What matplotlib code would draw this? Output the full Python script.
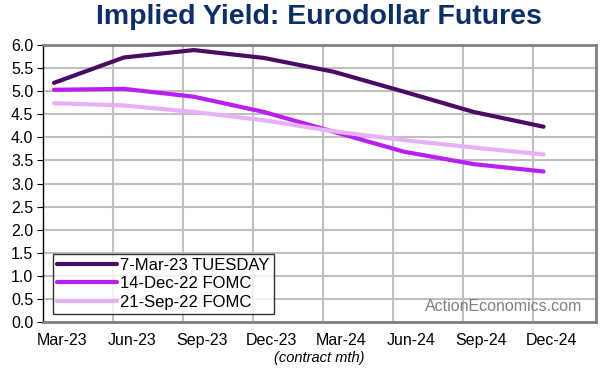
import matplotlib.pyplot as plt
import numpy as np

plt.rcParams['font.family'] = ['Liberation Sans', 'DejaVu Sans']

months = ['Mar-23', 'Jun-23', 'Sep-23', 'Dec-23', 'Mar-24', 'Jun-24', 'Sep-24', 'Dec-24']
mar23 = [5.18, 5.73, 5.89, 5.72, 5.42, 4.99, 4.55, 4.23]
dec22 = [5.03, 5.05, 4.88, 4.55, 4.12, 3.69, 3.42, 3.26]
sep22 = [4.74, 4.69, 4.55, 4.37, 4.13, 3.94, 3.78, 3.63]

fig = plt.figure(figsize=(6.02, 3.69), dpi=100)
ax = fig.add_axes([43/602, 1 - 322/369, 553/602, 277/369])

x = np.arange(len(months))
ax.plot(x, mar23, color='#4a0c63', lw=3, label='7-Mar-23 TUESDAY', solid_capstyle='round')
ax.plot(x, dec22, color='#b91ef2', lw=3, label='14-Dec-22 FOMC', solid_capstyle='round')
ax.plot(x, sep22, color='#e9b0f5', lw=3, label='21-Sep-22 FOMC', solid_capstyle='round')

ax.set_xlim(-0.157, 7.75)
ax.set_ylim(0, 6)
ax.set_yticks(np.arange(0, 6.01, 0.5))
ax.set_yticklabels([f'{v:.1f}' for v in np.arange(0, 6.01, 0.5)], fontsize=11.5)

# labels sit a bit right of each point, grid lines sit between categories
ax.set_xticks(x + 0.11)
ax.set_xticklabels(months, fontsize=11.5)
ax.set_xticks(x[:-1] + 0.845, minor=True)
ax.tick_params(axis='x', which='both', length=0, pad=8)
ax.tick_params(axis='y', length=4, color='black', pad=3)
ax.grid(True, axis='y', color='#c0c0c0', lw=1.5)
ax.grid(True, axis='x', which='minor', color='#c0c0c0', lw=1.5)
ax.set_axisbelow(True)

for s in ['top', 'right', 'bottom']:
    ax.spines[s].set_color('#808080')
    ax.spines[s].set_linewidth(2)
ax.spines['left'].set_color('black')
ax.spines['left'].set_linewidth(1)

ax.set_xlabel('(contract mth)', fontsize=10.5, style='italic', labelpad=2)

leg = ax.legend(loc='lower left', bbox_to_anchor=(0.018, 0.03), fontsize=12,
                frameon=True, fancybox=False, edgecolor='black', borderpad=0.25,
                labelspacing=0.2, handlelength=3.6, handletextpad=0.2, borderaxespad=0)
leg.get_frame().set_linewidth(1)

ax.text(0.975, 0.055, 'ActionEconomics.com', transform=ax.transAxes, ha='right',
        va='center', fontsize=11.5, color='#808080')

fig.suptitle('Implied Yield: Eurodollar Futures', fontsize=20.5, fontweight='bold',
             color='#0c2f66', x=0.53, y=0.99)

fig.savefig('out.png', dpi=100)
